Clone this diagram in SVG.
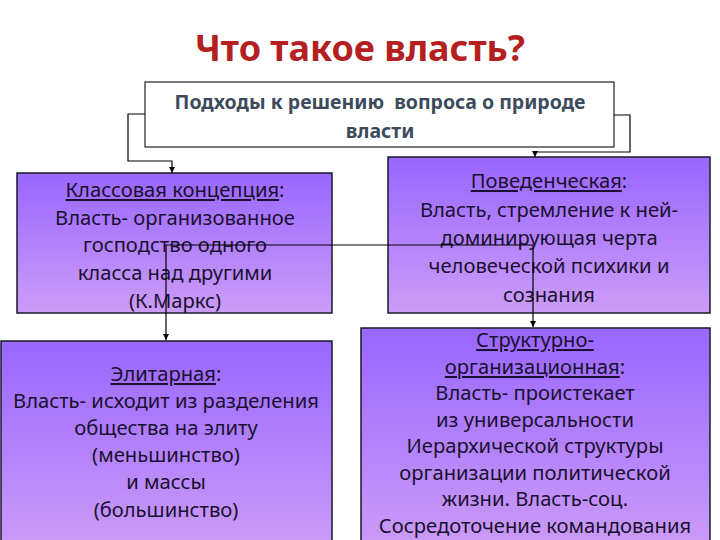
<svg xmlns="http://www.w3.org/2000/svg" width="720" height="540" viewBox="0 0 720 540">
<defs>
<linearGradient id="g" x1="0" y1="0" x2="0" y2="1">
<stop offset="0" stop-color="#9966ff"/>
<stop offset="1" stop-color="#cc9cf8"/>
</linearGradient>
<marker id="arr" viewBox="0 0 10 10" refX="10" refY="5" markerWidth="6" markerHeight="6" orient="auto" markerUnits="userSpaceOnUse">
<path d="M0,0 L10,5 L0,10 z" fill="#000"/>
</marker>
<style>
.box{fill:url(#g);stroke:#1a1a2a;stroke-width:1.5}
.t{font-family:"Noto Sans","DejaVu Sans",sans-serif;font-size:20.2px;fill:#1a1030;text-anchor:middle}
.h{font-family:"Noto Sans","DejaVu Sans",sans-serif;font-size:19.5px;font-weight:bold;fill:#3c4b5c;text-anchor:middle}
.u{text-decoration:underline}
.c{fill:none;stroke:#000;stroke-width:1.2}
</style>
</defs>
<rect width="720" height="540" fill="#fff"/>
<text x="360" y="61" font-family="'Noto Sans','DejaVu Sans',sans-serif" font-size="36" font-weight="bold" fill="#b3201f" text-anchor="middle">Что такое власть?</text>

<g id="connectors">
<path class="c" d="M145,114 H128 V161 H172 V173" marker-end="url(#arr)"/>
<path class="c" d="M614,115 H630 V152 H535 V157" marker-end="url(#arr)"/>
</g>

<g id="top">
<rect x="145" y="82" width="469" height="65" fill="#fff" stroke="#222" stroke-width="1.2"/>
<text class="h" x="380" y="109">Подходы к решению&#160; вопроса о природе</text>
<text class="h" x="380" y="138">власти</text>
</g>

<g id="class">
<rect class="box" x="17" y="173" width="315" height="140"/>
<text class="t" x="175" y="197"><tspan class="u">Классовая концепция</tspan>:</text>
<text class="t" x="175" y="225">Власть- организованное</text>
<text class="t" x="175" y="252">господство одного</text>
<text class="t" x="175" y="280">класса над другими</text>
<text class="t" x="175" y="308">(К.Маркс)</text>
</g>

<g id="behav">
<rect class="box" x="388" y="157" width="322" height="156"/>
<text class="t" x="549" y="188"><tspan class="u">Поведенческая</tspan>:</text>
<text class="t" x="549" y="217">Власть, стремление к ней-</text>
<text class="t" x="549" y="245">доминирующая черта</text>
<text class="t" x="549" y="273">человеческой психики и</text>
<text class="t" x="549" y="302">сознания</text>
</g>

<g id="elite">
<rect class="box" x="1" y="341" width="331" height="210"/>
<text class="t" x="166" y="381"><tspan class="u">Элитарная</tspan>:</text>
<text class="t" x="166" y="408">Власть- исходит из разделения</text>
<text class="t" x="166" y="435">общества на элиту</text>
<text class="t" x="166" y="462">(меньшинство)</text>
<text class="t" x="166" y="489">и массы</text>
<text class="t" x="166" y="517">(большинство)</text>
</g>

<g id="struct">
<rect class="box" x="361" y="328" width="349" height="223"/>
<text class="t" x="535" y="347"><tspan class="u">Структурно-</tspan></text>
<text class="t" x="535" y="374"><tspan class="u">организационная</tspan>:</text>
<text class="t" x="535" y="400">Власть- проистекает</text>
<text class="t" x="535" y="426.5">из универсальности</text>
<text class="t" x="535" y="453">Иерархической структуры</text>
<text class="t" x="535" y="479.5">организации политической</text>
<text class="t" x="535" y="506">жизни. Власть-соц.</text>
<text class="t" x="535" y="532.5">Сосредоточение командования</text>
</g>

<g id="connectors-cross">
<path class="c" d="M533,245 H166 V340" marker-end="url(#arr)"/>
<path class="c" d="M533,245 V327" marker-end="url(#arr)"/>
</g>
</svg>
